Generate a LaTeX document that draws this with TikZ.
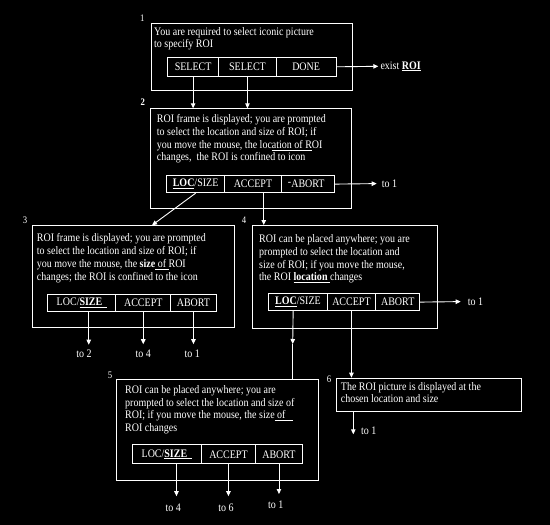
\documentclass[tikz,border=0pt]{standalone}
\usepackage{fontspec}
\setmainfont{Liberation Serif}[FakeStretch=0.87]
\usetikzlibrary{arrows.meta,calc}
\newcommand\fsz[1]{\fontsize{11.5}{#1}\selectfont}
\begin{document}
\begin{tikzpicture}[x=1pt,y=-1pt,
  box/.style={draw=white, line width=0.9pt, inner sep=0pt, anchor=north west},
  cell/.style={draw=white, line width=0.9pt, inner sep=0pt, anchor=north west, text=white, font=\fsz{12.8}},
  txt/.style={text=white, align=left, inner sep=0pt, anchor=north west},
  num/.style={text=white, font=\fontsize{10}{12}\selectfont, inner sep=0pt},
  lab/.style={text=white, font=\fsz{12.8}, inner ysep=0pt},
  tolab/.style={text=white, font=\fsz{12.8}, inner xsep=0pt, anchor=base},
  arr/.style={draw=white, line width=0.9pt, -{Triangle[width=4.5pt,length=5pt]}},
  ln/.style={draw=white, line width=0.9pt}]
\fill[black] (0,0) rectangle (550,525);
\useasboundingbox (0,0) rectangle (550,525);

% ---------- box 1
\node[num] (n1) at (142.3,18) {1};
\node[box, minimum width=201pt, minimum height=67pt] (b1) at (151,23) {};
\node[txt, font=\fsz{12}] (b1t) at (154,27.7) {You are required to select iconic picture\\to specify ROI};
\node[cell, minimum width=51.3pt, minimum height=18.7pt] (b1c1) at (167,57) {SELECT};
\node[cell, minimum width=57.4pt, minimum height=18.7pt] (b1c2) at (218.3,57) {SELECT};
\node[cell, minimum width=60pt, minimum height=18.7pt] (b1c3) at (275.7,57) {DONE};
\node[lab, anchor=west, inner xsep=2pt] (exist) at (378.3,66.3) {exist \underline{\textbf{ROI}}};
\draw[arr] (b1c3.east) -- (exist.west);

% ---------- box 2
\node[num, font=\bfseries\fontsize{10}{12}\selectfont] (n2) at (142.7,102) {2};
\node[box, minimum width=201.8pt, minimum height=100pt] (b2) at (149.5,108.3) {};
\node[txt, font=\fsz{12.8}] (b2t) at (156.7,114.3) {ROI frame is displayed; you are prompted\\to select the location and size of ROI; if\\you move the mouse, the loc\underline{ation of R}OI\\changes,\ \ the ROI is confined to icon};
\node[cell, minimum width=58.3pt, minimum height=17.3pt] (b2c1) at (166,175) {\underline{\textbf{LOC}}/SIZE};
\node[cell, minimum width=56.4pt, minimum height=17.3pt] (b2c2) at (224.3,175) {ACCEPT};
\node[cell, minimum width=53.6pt, minimum height=17.3pt] (b2c3) at (280.7,175) {\llap{\raisebox{2.5pt}{-}}ABORT};
\node[lab, anchor=west, inner xsep=5pt] (t21) at (376.7,183.6) {to 1};
\draw[arr] (b2c3.east) -- (t21.west);
\draw[arr] (b1c1.south) -- (b1c1.south |- b2.north);
\draw[arr] (b1c2.south) -- (b1c2.south |- b2.north);

% ---------- box 3
\node[num] (n3) at (25,220.7) {3};
\node[box, minimum width=202.6pt, minimum height=102pt] (b3) at (31.7,225.3) {};
\node[txt, font=\fsz{13}] (b3t) at (36.7,233) {ROI frame is displayed; you are prompted\\to select the location and size of ROI; if\\you move the mouse, the \textbf{size}\underline{\ of\ }ROI\\changes; the ROI is confined to the icon};
\node[cell, minimum width=68pt, minimum height=17.3pt] (b3c1) at (47.3,293.7) {LOC/\underline{\textbf{SIZE}\ \,}};
\node[cell, minimum width=55pt, minimum height=17.3pt] (b3c2) at (115.3,293.7) {ACCEPT};
\node[cell, minimum width=45.4pt, minimum height=17.3pt] (b3c3) at (170.3,293.7) {ABORT};
\coordinate (b3in) at (152,225.3);
\draw[arr] (b2c1.south) -- (b3in);
\node[tolab, inner ysep=5pt] (t32) at (84,357.5) {to 2};
\node[tolab, inner ysep=5pt] (t34) at (143.3,357) {to 4};
\node[tolab, inner ysep=5pt] (t31) at (192.3,357) {to 1};
\draw[arr] ([xshift=7pt]b3c1.south) -- ([xshift=7pt]b3c1.south |- t32.north);
\draw[arr] (b3c2.south) -- (b3c2.south |- t34.north);
\draw[arr] (b3c3.south) -- (b3c3.south |- t31.north);

% ---------- box 4
\node[num] (n4) at (244,220.7) {4};
\node[box, minimum width=185.6pt, minimum height=103.3pt] (b4) at (251.7,225) {};
\node[txt, font=\fsz{12.8}] (b4t) at (259,234.3) {ROI can be placed anywhere; you are\\prompted to select the location and\\size of ROI; if you move the mouse,\\the ROI \underline{\textbf{location}\ }changes};
\node[cell, minimum width=58.4pt, minimum height=16.7pt] (b4c1) at (268.3,293.3) {\underline{\textbf{LOC}}/SIZE};
\node[cell, minimum width=48.6pt, minimum height=16.7pt] (b4c2) at (326.7,293.3) {ACCEPT};
\node[cell, minimum width=44pt, minimum height=16.7pt] (b4c3) at (375.3,293.3) {ABORT};
\node[lab, anchor=west, inner xsep=7pt] (t41) at (460.7,301.6) {to 1};
\draw[arr] (b4c3.east) -- (t41.west);
\draw[arr] ([xshift=10.8pt]b2c2.south) -- ([xshift=10.8pt]b2c2.south |- b4.north);

% ---------- box 5
\node[num] (n5) at (110,375) {5};
\node[box, minimum width=202.3pt, minimum height=101.3pt] (b5) at (116,378.7) {};
\node[txt, font=\fsz{12.6}] (b5t) at (125,385.3) {ROI can be placed anywhere; you are\\prompted to select the location and size of\\ROI; if you move the mouse, the size\underline{\ of\ \ \ }\\ROI changes};
\node[cell, minimum width=69pt, minimum height=19pt] (b5c1) at (131.7,444.3) {LOC/\underline{\textbf{SIZE}\ \,}};
\node[cell, minimum width=54.6pt, minimum height=19pt] (b5c2) at (200.7,444.3) {ACCEPT};
\node[cell, minimum width=46.4pt, minimum height=19pt] (b5c3) at (255.3,444.3) {ABORT};
\coordinate (m45) at (292.7,344);
\draw[arr] ([xshift=-4.8pt]b4c1.south) -- (m45);
\draw[ln] (m45) -- (m45 |- b5.north);
\node[tolab, inner ysep=7.5pt] (t54) at (173.3,511.5) {to 4};
\node[tolab, inner ysep=7.5pt] (t56) at (226,511.5) {to 6};
\node[tolab, inner ysep=6.5pt] (t51) at (275.7,508.3) {to 1};
\draw[arr] ([xshift=9.8pt]b5c1.south) -- ([xshift=9.8pt]b5c1.south |- t54.north);
\draw[arr] (b5c2.south) -- (b5c2.south |- t56.north);
\draw[arr] (b5c3.south) -- (b5c3.south |- t51.north);

% ---------- box 6
\node[num] (n6) at (329,379) {6};
\node[box, minimum width=185.6pt, minimum height=33.3pt] (b6) at (335.7,377.7) {};
\node[txt, font=\fsz{12.7}] (b6t) at (340.7,382) {The ROI picture is displayed at the\\chosen location and size};
\draw[arr] (b4c2.south) -- (b4c2.south |- b6.north);
\node[lab, anchor=base west, inner sep=0pt] (t61) at (361,434.3) {to 1};
\draw[arr] ([xshift=17.6pt]b6.south west) -- ([xshift=17.6pt]b6.south west |- t61.base);
\end{tikzpicture}
\end{document}
